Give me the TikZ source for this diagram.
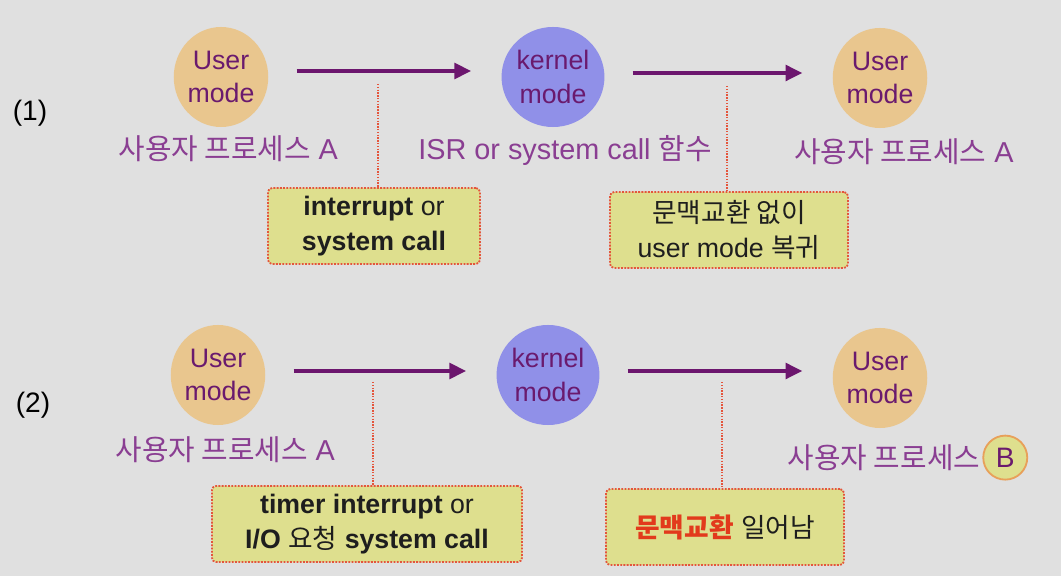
\documentclass[tikz,border=0pt]{standalone}
\usepackage{fontspec}
\setmainfont{Liberation Sans}
\newfontfamily\krfont{Noto Sans CJK KR}
\usetikzlibrary{arrows.meta,positioning,shapes.geometric}
\definecolor{osPaper}{HTML}{E0E0E0}
\definecolor{osUserFill}{HTML}{E9C68E}
\definecolor{osKernelFill}{HTML}{9090E8}
\definecolor{osModeInk}{HTML}{6A1A6E}
\definecolor{osLabelInk}{HTML}{8A3E92}
\definecolor{osArrowInk}{HTML}{6C166E}
\definecolor{osNoteFill}{HTML}{DEDF8E}
\definecolor{osNoteLine}{HTML}{E4553C}
\definecolor{osNoteInk}{HTML}{1E1E1E}
\definecolor{osHotInk}{HTML}{E23A1C}
\definecolor{osRingLine}{HTML}{E8A05A}
\newcommand{\kr}[1]{{\krfont #1}}
\tikzset{
  os/base/.style={font=\fontsize{19}{24}\selectfont, align=center, inner sep=0pt},
  os/mode/.style={os/base, ellipse, minimum width=2.3cm, minimum height=2.5cm,
    text=osModeInk},
  os/user/.style={os/mode, fill=osUserFill},
  os/kernel/.style={os/mode, fill=osKernelFill},
  os/label/.style={os/base, text=osLabelInk, font=\fontsize{20.5}{24}\selectfont},
  os/tag/.style={os/base, text=black, font=\fontsize{20}{24}\selectfont},
  os/note/.style={os/base, draw=osNoteLine, densely dotted, line width=1.3pt,
    fill=osNoteFill, rounded corners=3pt, minimum height=1.9cm,
    text=osNoteInk, font=\fontsize{19}{25}\selectfont},
  os/flow/.style={-{Triangle[length=12pt,width=11pt]}, draw=osArrowInk,
    line width=2.8pt, shorten <=0.7cm, shorten >=0.75cm},
  os/leader/.style={draw=osNoteLine, densely dotted, line width=1pt},
  os/ring/.style={os/base, circle, draw=osRingLine, line width=1.3pt,
    fill=osNoteFill, minimum size=1.1cm, text=osModeInk,
    font=\fontsize{20}{24}\selectfont},
}

\begin{document}
\begin{tikzpicture}[x=0.025cm, y=-0.025cm]
\fill[osPaper] (0,0) rectangle (1061,576);
% row (1): system call without switch
\node[os/tag] (tag1) at (30,113) {(1)};
\node[os/user] (u1) at (221,77) {User\\mode};
\node[os/kernel] (k1) at (553,77) {kernel\\mode};
\node[os/user] (u2) at (880,78) {User\\mode};
\node[os/label, below=0.2cm of u1, xshift=0.18cm] (l1) {\kr{사용자 프로세스} A};
\node[os/label, below=0.2cm of k1, xshift=0.3cm] (l2) {ISR or system call \kr{함수}};
\node[os/label, below=0.25cm of u2, xshift=0.6cm] (l3) {\kr{사용자 프로세스} A};
\node[os/note, minimum width=5.3cm] (n1) at (374,226) {\textbf{interrupt} or\\\textbf{system call}};
\node[os/note, minimum width=5.95cm] (n2) at (729,230) {\kr{문맥교환 없이}\\user mode \kr{복귀}};
\coordinate (d1) at (378,84);
\coordinate (d2) at (727,86);
\draw[os/flow] ([yshift=0.15cm]u1.east) -- ([yshift=0.15cm]k1.west);
\draw[os/flow] ([yshift=0.1cm]k1.east) -- ([yshift=0.1cm]k1.east -| u2.west);
\draw[os/leader] (d1) -- (d1 |- n1.north);
\draw[os/leader] (d2) -- (d2 |- n2.north);
% row (2): context switch to another process
\node[os/tag] (tag2) at (33,405) {(2)};
\node[os/user] (u3) at (218,375) {User\\mode};
\node[os/kernel] (k2) at (548,375) {kernel\\mode};
\node[os/user] (u4) at (880,378) {User\\mode};
\node[os/label, below=0.28cm of u3, xshift=0.18cm] (l4) {\kr{사용자 프로세스} A};
\node[os/label, below=0.4cm of u4, xshift=0.1cm] (l5) {\kr{사용자 프로세스}};
\node[os/ring, right=0.05cm of l5] (ringB) {B};
\node[os/note, minimum width=7.75cm] (n3) at (367,524) {\textbf{timer interrupt} or\\\textbf{I/O} \kr{요청} \textbf{system call}};
\node[os/note, minimum width=5.95cm] (n4) at (725,527) {{\color{osHotInk}\bfseries\kr{문맥교환}} \kr{일어남}};
\coordinate (d3) at (373,382);
\coordinate (d4) at (722,382);
\draw[os/flow] ([yshift=0.1cm]u3.east) -- ([yshift=0.1cm]k2.west);
\draw[os/flow] ([yshift=0.1cm]k2.east) -- ([yshift=0.1cm]k2.east -| u4.west);
\draw[os/leader] (d3) -- (d3 |- n3.north);
\draw[os/leader] (d4) -- (d4 |- n4.north);
\end{tikzpicture}
\end{document}
